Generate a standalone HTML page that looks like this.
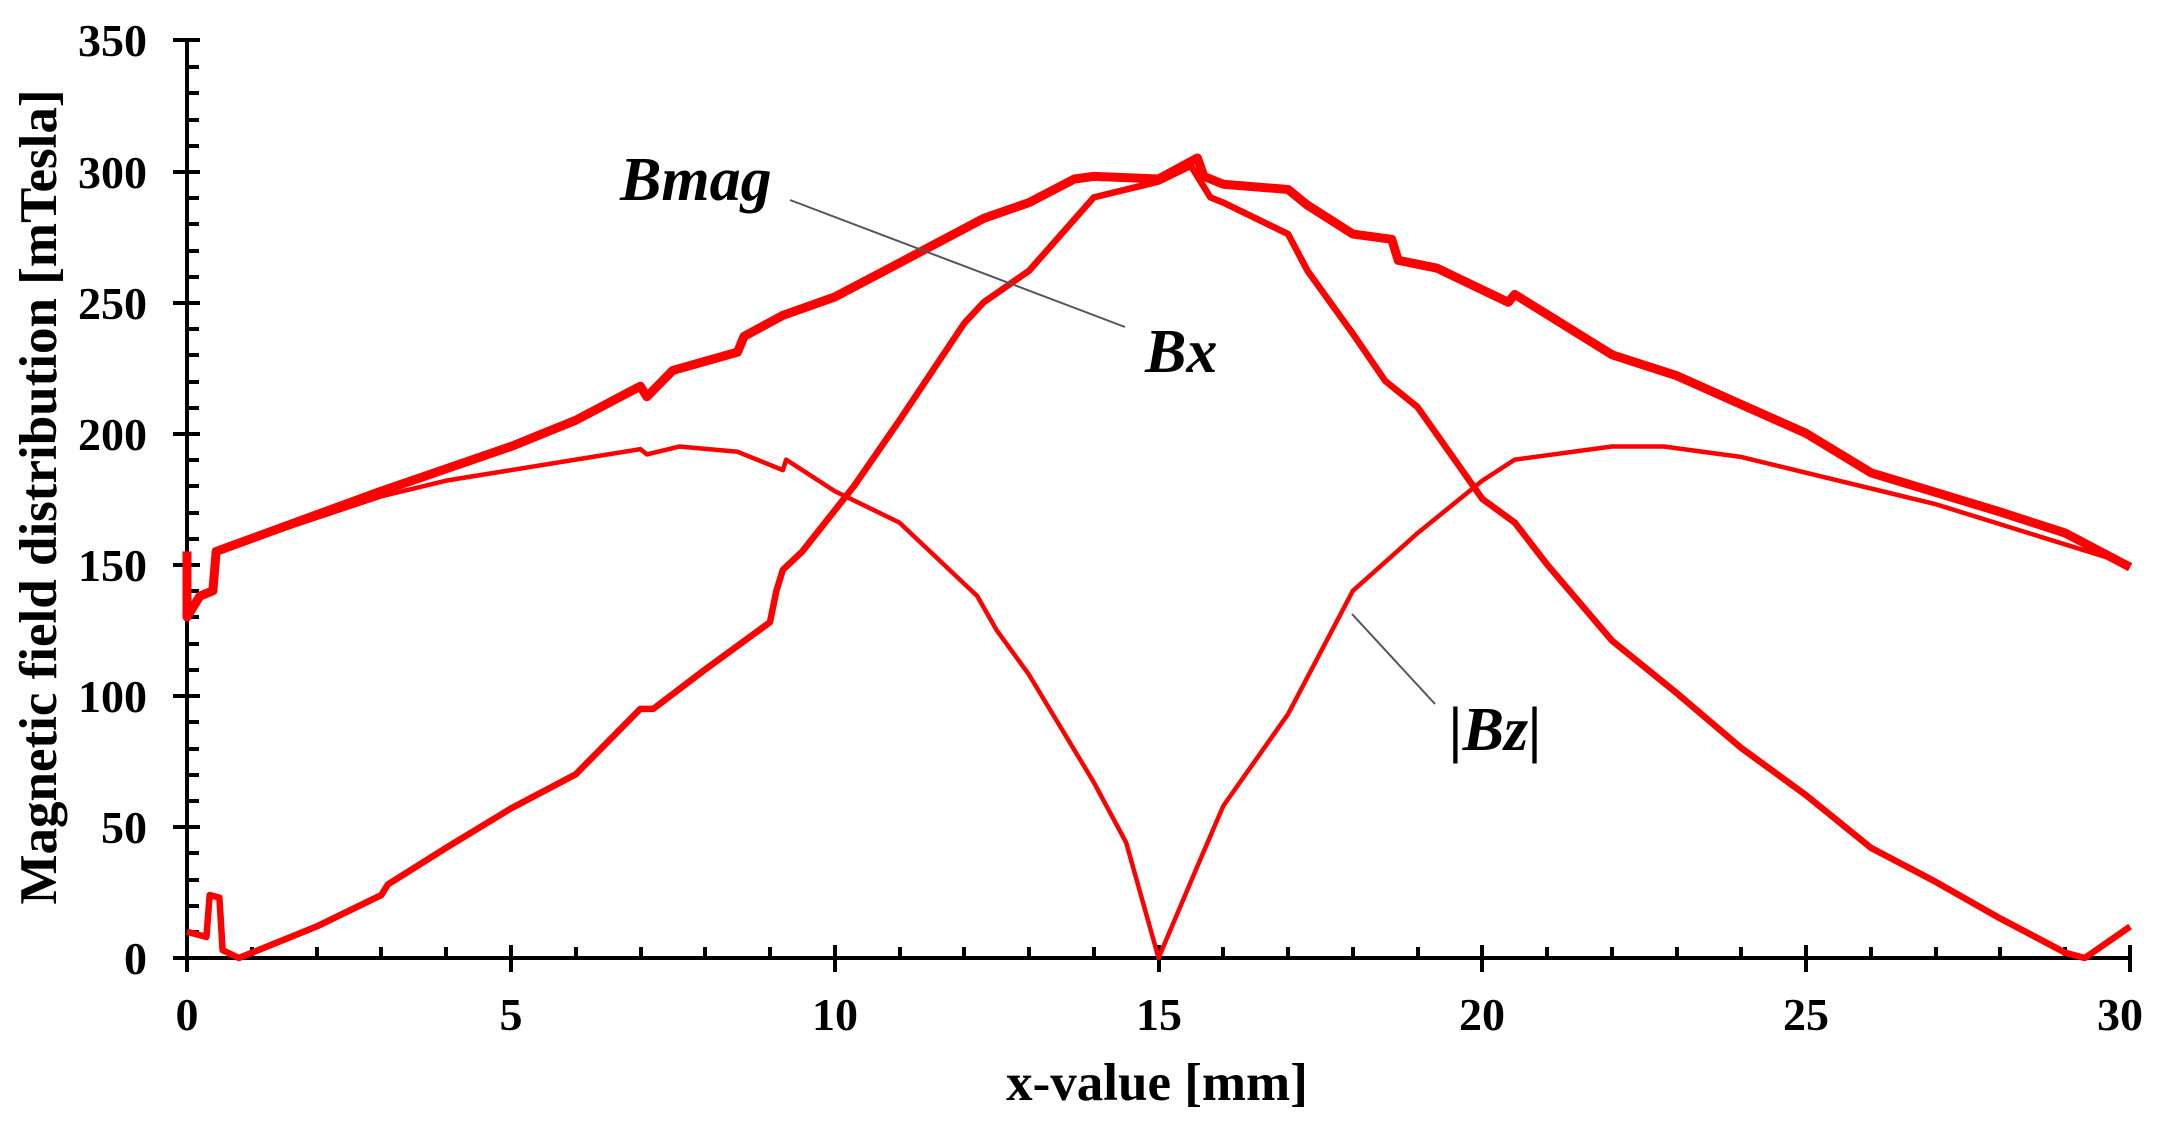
<!DOCTYPE html>
<html><head><meta charset="utf-8"><style>
html,body{margin:0;padding:0;background:#fff;}
svg{display:block;}
text{font-family:"Liberation Serif",serif;font-weight:bold;fill:#000;}
</style></head><body>
<svg width="2164" height="1124" viewBox="0 0 2164 1124" xmlns="http://www.w3.org/2000/svg">
<g stroke="#000" stroke-width="4" fill="none">
<line x1="187" y1="38" x2="187" y2="960"/>
<line x1="185" y1="958" x2="2132" y2="958"/>
<path d="M173 958H200M173 827H200M173 696H200M173 565H200M173 434H200M173 303H200M173 172H200M173 40H200"/>
<path d="M187 932H199M187 906H199M187 880H199M187 853H199M187 801H199M187 775H199M187 749H199M187 722H199M187 670H199M187 644H199M187 617H199M187 591H199M187 539H199M187 513H199M187 486H199M187 460H199M187 408H199M187 382H199M187 355H199M187 329H199M187 277H199M187 251H199M187 224H199M187 198H199M187 146H199M187 120H199M187 93H199M187 67H199"/>
<path d="M187 945V972M511 945V972M835 945V972M1159 945V972M1482 945V972M1806 945V972M2130 945V972"/>
<path d="M252 958V947M317 958V947M381 958V947M446 958V947M576 958V947M641 958V947M705 958V947M770 958V947M900 958V947M964 958V947M1029 958V947M1094 958V947M1223 958V947M1288 958V947M1353 958V947M1418 958V947M1547 958V947M1612 958V947M1677 958V947M1741 958V947M1871 958V947M1936 958V947M2000 958V947M2065 958V947"/>
</g>
<g font-size="46" text-anchor="end">
<text x="147" y="974">0</text><text x="147" y="843">50</text><text x="147" y="712">100</text><text x="147" y="581">150</text><text x="147" y="450">200</text><text x="147" y="319">250</text><text x="147" y="188">300</text><text x="147" y="56">350</text>
</g>
<g font-size="46" text-anchor="middle">
<text x="187" y="1030">0</text><text x="511" y="1030">5</text><text x="835" y="1030">10</text><text x="1159" y="1030">15</text><text x="1482" y="1030">20</text><text x="1806" y="1030">25</text><text x="2120" y="1030">30</text>
</g>
<text x="1157" y="1100" font-size="53" text-anchor="middle">x-value [mm]</text>
<text transform="translate(56,497) rotate(-90)" font-size="53" text-anchor="middle">Magnetic field distribution [mTesla]</text>
<g fill="none" stroke="#ff0000" stroke-linejoin="round" transform="translate(187,958) scale(64.77,-2.6229)">
<polyline vector-effect="non-scaling-stroke" stroke-width="9" points="0,155 0,130 0.2,138 0.4,140 0.45,155 3,178 5,195 6,205 7,218 7.1,214 7.5,224 8.5,231 8.6,237 9.2,245 10,252 11,265 12.3,282 13,288 13.7,297 14,298 15,297 15.6,305 15.7,298 16,295 17,293 17.3,287 18,276 18.6,274 18.7,266 19.3,263 20.4,250 20.5,253 22,230 23,222 25,200 26,185 28,170 29,162 30,149"/>
<polyline vector-effect="non-scaling-stroke" stroke-width="6.5" points="0,10 0.3,8 0.35,24 0.5,23 0.55,3 0.8,0 2,12 3,24 3.1,28 4,42 5,57 6,70 7,95 7.2,95 8,110 9,128 9.1,140 9.2,148 9.5,155 10.3,180 11,205 12,242 12.3,250 13,262 14,290 15,296 15.5,302 15.8,290 16,288 17,276 17.3,262 18,238 18.5,220 19,210 20,175 20.5,166 21,150 22,121 23,101 24,80 25,62 26,42 27,29 28,15 29,2 29.3,0 30,12"/>
<polyline vector-effect="non-scaling-stroke" stroke-width="4.5" points="0.45,155 3,176 4,182 6,190 7,194 7.1,192 7.6,195 8.5,193 9.2,186 9.25,190 10,178 11,166 12.2,138 12.5,125 13,108 14,67 14.5,44 15,0 15.6,35 16,58 17,93 18,140 19,162 20,182 20.5,190 22,195 22.8,195 24,191 25,185 27,173 30,150"/>
</g>
<g stroke="#555" stroke-width="2">
<line x1="790" y1="200" x2="1125" y2="327"/>
<line x1="1435" y1="704" x2="1352" y2="614"/>
</g>
<g font-size="62" font-style="italic">
<text x="620" y="200">Bmag</text>
<text x="1145" y="372">Bx</text>
<text x="1449" y="750">|Bz|</text>
</g>
</svg>
</body></html>
